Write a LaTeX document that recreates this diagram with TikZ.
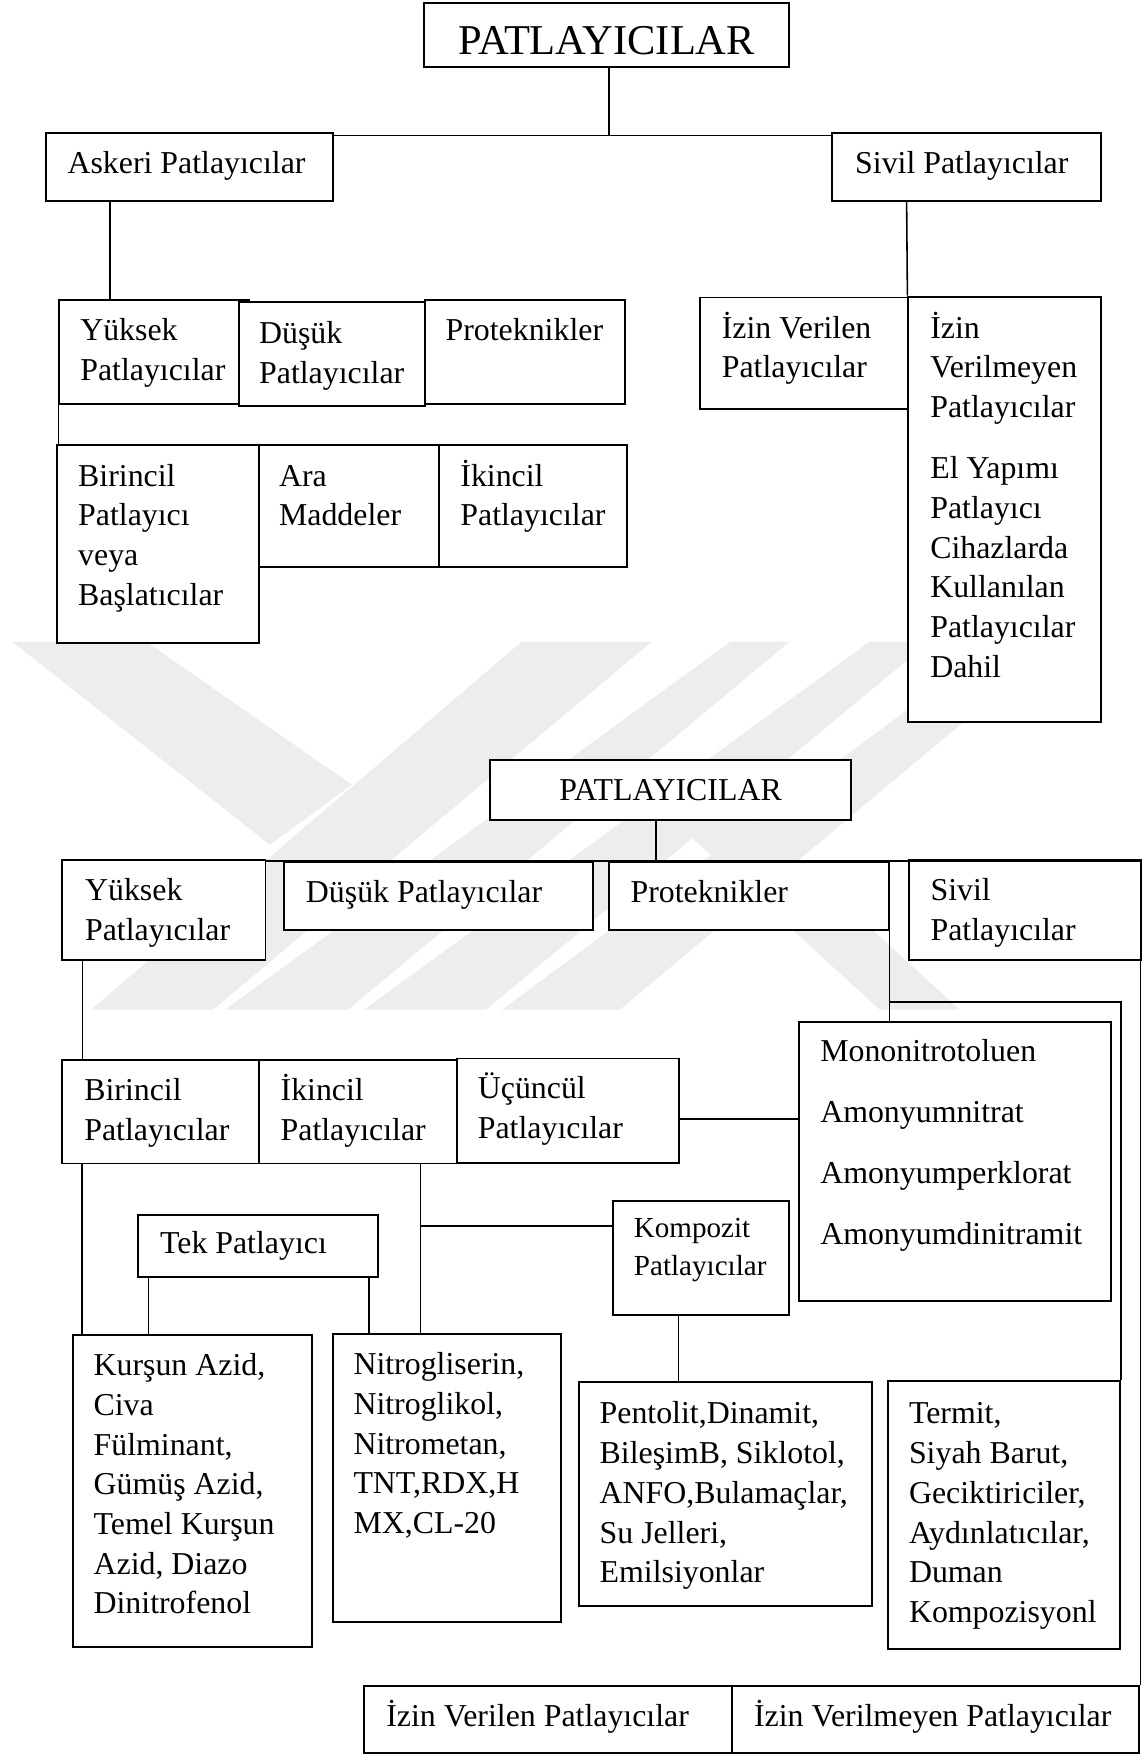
\documentclass[tikz,border=0pt]{standalone}
\usepackage{fontspec}
\setmainfont{Liberation Serif}
\usetikzlibrary{fit}
\newcommand{\cellfont}{\fontsize{16.2pt}{20.2pt}\selectfont}
\newcommand{\kompfont}{\fontsize{14.8pt}{19pt}\selectfont}
\newcommand{\bigtitlefont}{\fontsize{21.6pt}{26pt}\selectfont}
\newcommand{\topline}{\rule{0pt}{17pt}}

\begin{document}
\begin{tikzpicture}[
    x=0.02cm, y=-0.02cm,
    cellbox/.style={draw, line width=1pt, fill=white, inner sep=0pt},
    celltext/.style={anchor=north west, inner sep=0pt, align=left, font=\cellfont},
    komptext/.style={celltext, font=\kompfont},
    titletext/.style={anchor=base, inner sep=0pt},
    link/.style={line width=0.8pt},
    wmark/.style={fill=black!7}
]
\useasboundingbox (0,0) rectangle (1020,1568);

% Faint watermark behind the charts
\begin{scope}[scale=0.8932]
\fill[wmark] (12,641.7) -- (146,641.7) -- (352,785) -- (270,845) -- cycle;
\fill[wmark] (522,641.7) -- (652,641.7) -- (213,1010) -- (91,1010) -- cycle;
\fill[wmark] (731,641.7) -- (790,641.7) -- (348,1010) -- (225,1010) -- cycle;
\fill[wmark] (870,641.7) -- (930,641.7) -- (486,1010) -- (364,1010) -- cycle;
\fill[wmark] (1000,641.7) -- (1060,641.7) -- (620,1010) -- (502,1010) -- cycle;
\fill[wmark] (640,790) -- (720,790) -- (960,1010) -- (880,1010) -- cycle;
\end{scope}

% Upper chart: boxes
\node[cellbox, fit={(379,3)(705,60)}] (patA) {};
\node[titletext, font=\bigtitlefont] (patA-t) at (542,49.1) {PATLAYICILAR};
\node[cellbox, fit={(41.4,119.1)(297.8,179.5)}] (askeri) {};
\node[celltext] (askeri-t) at (60,125.1) {\topline Askeri Patlayıcılar};
\node[cellbox, fit={(743.7,118.5)(983.7,179.4)}] (sivilA) {};
\node[celltext] (sivilA-t) at (763.7,125.1) {\topline Sivil Patlayıcılar};
\node[cellbox, fit={(53,268)(222.6,361)}] (yuksekA) {};
\node[celltext] (yuksekA-t) at (71.4,274.1) {\topline Yüksek\\Patlayıcılar};
\node[cellbox, fit={(213.6,270)(380,363)}] (dusukA) {};
\node[celltext] (dusukA-t) at (231.2,276.7) {\topline Düşük\\Patlayıcılar};
\node[cellbox, fit={(380,268)(558.4,360.8)}] (protekA) {};
\node[celltext] (protekA-t) at (397.8,273.8) {\topline Proteknikler};
\node[cellbox, fit={(50.8,398)(231,574.6)}] (birincilA) {};
\node[celltext] (birincilA-t) at (69.5,404.1) {\topline Birincil\\Patlayıcı\\veya\\Başlatıcılar};
\node[cellbox, fit={(231,397.5)(392,507)}] (araA) {};
\node[celltext] (araA-t) at (249,404.1) {\topline Ara\\Maddeler};
\node[cellbox, fit={(392,397.5)(560,507)}] (ikincilA) {};
\node[celltext] (ikincilA-t) at (411,404.1) {\topline İkincil\\Patlayıcılar};
\node[cellbox, fit={(625.5,265.8)(811.6,365.7)}] (izinYesA) {};
\node[celltext] (izinYesA-t) at (644.6,272) {\topline İzin Verilen\\Patlayıcılar};
\node[cellbox, fit={(811.6,265)(983.7,645.2)}] (izinNoA) {};
\node[celltext] (izinNoA-t) at (830.8,272) {\topline İzin\\Verilmeyen\\Patlayıcılar\\[10.8pt]El Yapımı\\Patlayıcı\\Cihazlarda\\Kullanılan\\Patlayıcılar\\Dahil};

% Upper chart: connectors
\coordinate (busA) at (544.1,121.2);
\coordinate (askStem) at (98.5,179.5);
\coordinate (sivStem) at (810,179.4);
\draw[link] (patA.south -| busA) -- (busA);
\draw[link] (askeri.east |- busA) -- (sivilA.west |- busA);
\draw[link] (askStem) -- (askStem |- yuksekA.north);
\draw[link] (yuksekA.south west) -- (yuksekA.south west |- birincilA.north);
\draw[link] (sivStem) -- (izinNoA.north west);

% Lower chart: boxes
\node[cellbox, fit={(437.8,679.2)(760.4,733)}] (patB) {};
\node[titletext, font=\cellfont] (patB-t) at (599.1,715.2) {PATLAYICILAR};
\node[cellbox, fit={(55.8,768.4)(237.2,858)}] (yuksekB) {};
\node[celltext] (yuksekB-t) at (75.7,774.6) {\topline Yüksek\\Patlayıcılar};
\node[cellbox, fit={(254,770.4)(529.5,831)}] (dusukB) {};
\node[celltext] (dusukB-t) at (273,776.1) {\topline Düşük Patlayıcılar};
\node[cellbox, fit={(544.2,770.4)(794,831)}] (protekB) {};
\node[celltext] (protekB-t) at (563,776.1) {\topline Proteknikler};
\node[cellbox, fit={(811.9,768.4)(1019,858)}] (sivilB) {};
\node[celltext] (sivilB-t) at (831.1,774.6) {\topline Sivil\\Patlayıcılar};
\node[cellbox, fit={(55.8,947)(231.3,1039.5)}] (birincilB) {};
\node[celltext] (birincilB-t) at (75,953.1) {\topline Birincil\\Patlayıcılar};
\node[cellbox, fit={(231.3,947)(407.9,1039.5)}] (ikincilB) {};
\node[celltext] (ikincilB-t) at (250.4,953.1) {\topline İkincil\\Patlayıcılar};
\node[cellbox, fit={(407.9,945.7)(606.8,1038.8)}] (ucunculB) {};
\node[celltext] (ucunculB-t) at (426.6,951.5) {\topline Üçüncül\\Patlayıcılar};
\node[cellbox, fit={(713.9,912.8)(992.8,1162)}] (monoB) {};
\node[celltext] (monoB-t) at (732.5,918.1) {\topline Mononitrotoluen\\[10.8pt]Amonyumnitrat\\[10.8pt]Amonyumperklorat\\[10.8pt]Amonyumdinitramit};
\node[cellbox, fit={(123.6,1085.7)(338.1,1140.8)}] (tekB) {};
\node[celltext] (tekB-t) at (142.7,1090.1) {\topline Tek Patlayıcı};
\node[cellbox, fit={(547.3,1073.3)(705.3,1174.5)}] (kompB) {};
\node[komptext] (kompB-t) at (566,1075.8) {\topline Kompozit\\Patlayıcılar};
\node[cellbox, fit={(65,1192.4)(278.4,1471.4)}] (kursunB) {};
\node[celltext] (kursunB-t) at (83.3,1198.8) {\topline Kurşun Azid,\\Civa\\Fülminant,\\Gümüş Azid,\\Temel Kurşun\\Azid, Diazo\\Dinitrofenol};
\node[cellbox, fit={(297.3,1191.5)(500.9,1449)}] (nitroB) {};
\node[celltext] (nitroB-t) at (315.5,1198.1) {\topline Nitrogliserin,\\Nitroglikol,\\Nitrometan,\\TNT,RDX,H\\MX,CL-20};
\node[cellbox, fit={(517.1,1235)(779.3,1435)}] (pentoB) {};
\node[celltext] (pentoB-t) at (535.4,1242) {\topline Pentolit,Dinamit,\\BileşimB, Siklotol,\\ANFO,Bulamaçlar,\\Su Jelleri,\\Emilsiyonlar};
\node[cellbox, fit={(793.6,1234)(1000.5,1473.7)}] (termitB) {};
\node[celltext] (termitB-t) at (811.8,1242) {\topline Termit,\\Siyah Barut,\\Geciktiriciler,\\Aydınlatıcılar,\\Duman\\Kompozisyonl};
\node[cellbox, fit={(325.3,1506.5)(654.4,1566)}] (izinYesB) {};
\node[celltext] (izinYesB-t) at (344.8,1512.3) {\topline İzin Verilen Patlayıcılar};
\node[cellbox, fit={(654.4,1506.5)(1018,1566)}] (izinNoB) {};
\node[celltext] (izinNoB-t) at (673.3,1512.3) {\topline İzin Verilmeyen Patlayıcılar};

% Lower chart: connectors
\coordinate (busB) at (586,769.4);
\coordinate (busEnd) at (1019,769.4);
\coordinate (busR) at (794,895.3);
\coordinate (yukStem) at (73.8,858);
\coordinate (birStem) at (73.5,1039.5);
\coordinate (ikiStem) at (375.5,1039.5);
\coordinate (kompLink) at (375.5,1095.2);
\coordinate (kompStem) at (606.3,1174.5);
\coordinate (tekL) at (132.8,1140.8);
\coordinate (tekR) at (329.6,1140.8);
\coordinate (ucLink) at (606.8,999.5);
\draw[link] (patB.south -| busB) -- (busB);
\draw[link] (yuksekB.east |- busB) -- (busEnd) -- (busEnd |- izinNoB.north);
\draw[link] (protekB.south east) -- (protekB.south east |- monoB.north);
\draw[link] (busR) -- (busR -| termitB.north east) -- (termitB.north east);
\draw[link] (ucLink) -- (ucLink -| monoB.west);
\draw[link] (yukStem) -- (yukStem |- birincilB.north);
\draw[link] (birStem) -- (birStem |- kursunB.north);
\draw[link] (tekL) -- (tekL |- kursunB.north);
\draw[link] (tekR) -- (tekR |- nitroB.north);
\draw[link] (ikiStem) -- (ikiStem |- nitroB.north);
\draw[link] (kompLink) -- (kompLink -| kompB.west);
\draw[link] (kompStem) -- (kompStem |- pentoB.north);

\end{tikzpicture}
\end{document}
